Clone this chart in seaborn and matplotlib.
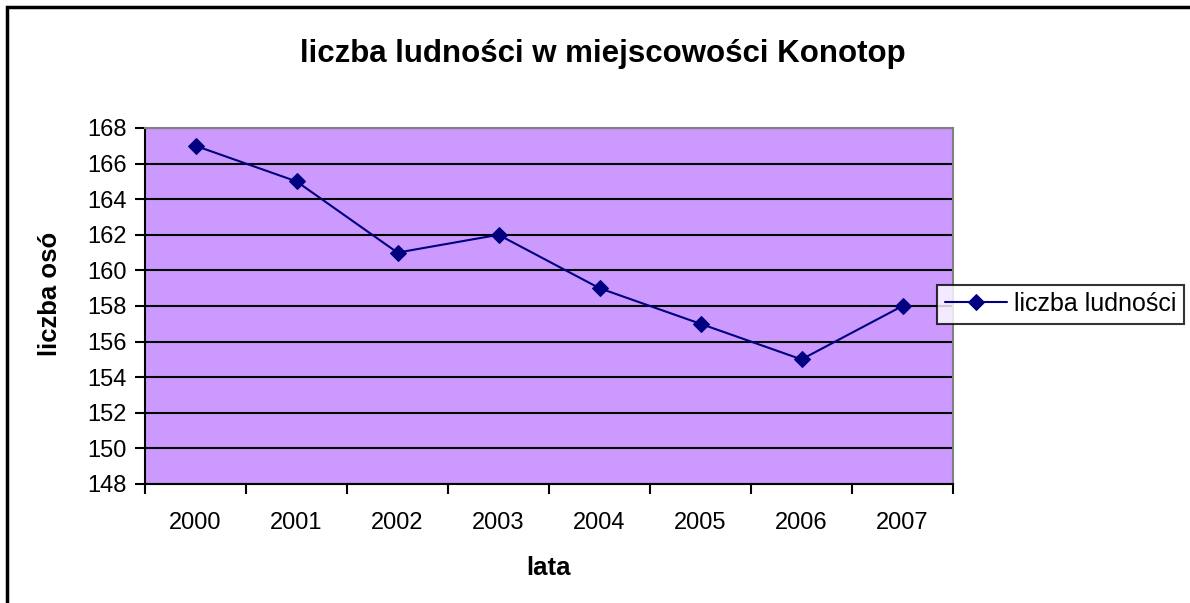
import numpy as np
import pandas as pd
import matplotlib
matplotlib.use("Agg")
import matplotlib.pyplot as plt
import seaborn as sns
from matplotlib.patches import Rectangle

# data
years = ["2000", "2001", "2002", "2003", "2004", "2005", "2006", "2007"]
population = [167, 165, 161, 162, 159, 157, 155, 158]

df = pd.DataFrame({"pos": np.arange(len(years)), "rok": years, "ludnosc": population})

sns.set_style("white")
plt.rcParams['font.family'] = ['Liberation Sans', 'DejaVu Sans']
plt.rcParams['text.color'] = 'black'
plt.rcParams['axes.labelcolor'] = 'black'
plt.rcParams['xtick.color'] = 'black'
plt.rcParams['ytick.color'] = 'black'

fig = plt.figure(figsize=(11.9, 6.03), dpi=100)
ax = fig.add_axes([145 / 1190, 1 - 484 / 603, 808 / 1190, 356 / 603])
ax.set_facecolor("#CC99FF")

sns.lineplot(data=df, x="pos", y="ludnosc", ax=ax, color="#000080", marker="D",
             markersize=8.5, markeredgecolor="#000080", linewidth=1.5,
             label="liczba ludności")

ax.set_xlim(-0.5, len(years) - 0.5)
ax.set_ylim(148, 168)
ax.set_yticks(np.arange(148, 169, 2))
ax.yaxis.grid(True, color="black", linewidth=1.5)
ax.set_axisbelow(True)

# category axis: ticks between categories, labels centred
ax.set_xticks(np.arange(-0.5, len(years), 1.0))
ax.set_xticklabels([])
ax.set_xticks(df["pos"], minor=True)
ax.set_xticklabels(years, minor=True)
ax.tick_params(axis="x", which="major", direction="out", length=7, width=1.5)
ax.tick_params(axis="x", which="minor", length=0, pad=20, labelsize=17)
ax.tick_params(axis="y", direction="out", length=7, width=1.5, labelsize=17, pad=6)
ax.tick_params(bottom=True, left=True)

for side in ["left", "bottom"]:
    ax.spines[side].set_color("black")
    ax.spines[side].set_linewidth(1.5)
for side in ["top", "right"]:
    ax.spines[side].set_color("#808080")
    ax.spines[side].set_linewidth(1.5)

ax.set_xlabel("lata", fontsize=18.5, fontweight="bold", labelpad=16)
ax.set_ylabel("liczba osó", fontsize=18.5, fontweight="bold")
ax.yaxis.set_label_coords(-0.103, 0.535)

fig.text(603 / 1190, 1 - 54 / 603, "liczba ludności w miejscowości Konotop",
         ha="center", va="center", fontsize=22.5, fontweight="bold")

leg = ax.legend(loc="center left", bbox_to_anchor=(937 / 1190, 1 - 304 / 603),
                bbox_transform=fig.transFigure, fontsize=18, frameon=True,
                fancybox=False, borderpad=0.3, handlelength=2.5, handletextpad=0.3,
                borderaxespad=0)
leg.get_frame().set_edgecolor("black")
leg.get_frame().set_linewidth(1.5)

# outer chart border
fig.patches.append(Rectangle((7 / 1190, -0.1), 1.2, 1 - 7 / 603 + 0.1,
                             transform=fig.transFigure, fill=False,
                             edgecolor="black", linewidth=2.5))

fig.savefig("out.png", dpi=100)
